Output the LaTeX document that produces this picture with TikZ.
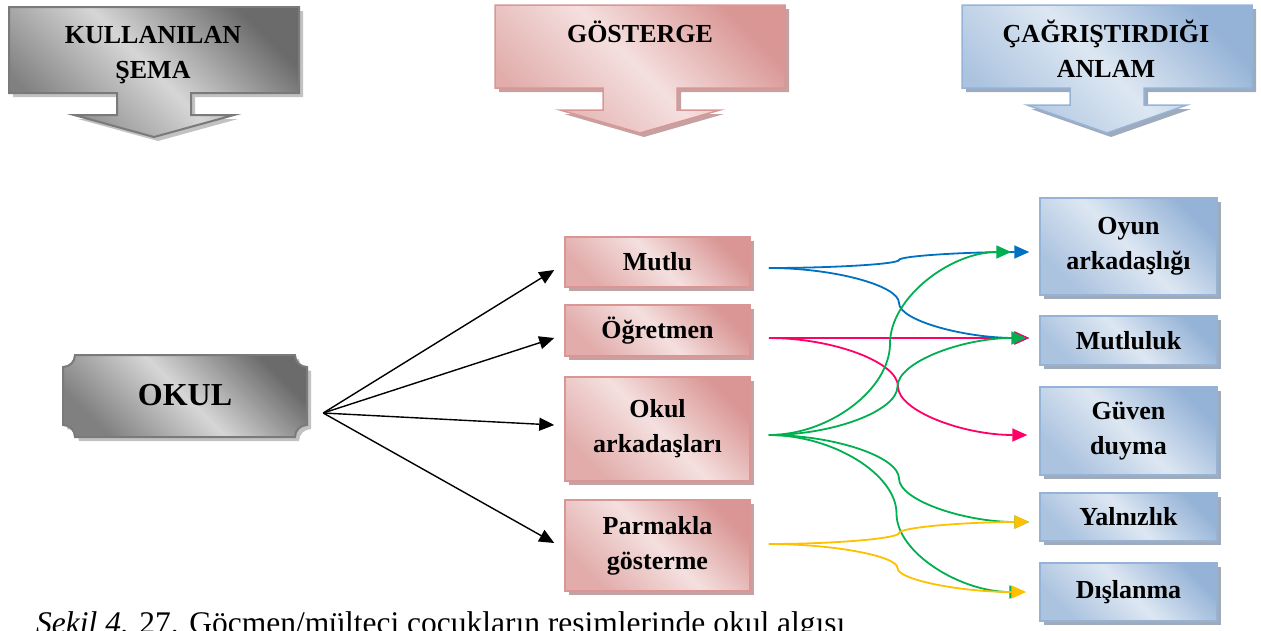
\documentclass[tikz,border=0pt]{standalone}
\usepackage{fontspec}
\setmainfont{Liberation Serif}
\usetikzlibrary{arrows.meta, calc, shadows}

\definecolor{graydark}{HTML}{6B6B6B}
\definecolor{graylight}{HTML}{D6D6D6}
\definecolor{grayedge}{HTML}{7A7A7A}
\definecolor{pinkdark}{HTML}{D99694}
\definecolor{pinklight}{HTML}{F4E0DF}
\definecolor{pinkshadow}{HTML}{B88A89}
\definecolor{bluedark}{HTML}{95B3D7}
\definecolor{bluelight}{HTML}{DDE7F2}
\definecolor{blueshadow}{HTML}{8795AA}
\definecolor{cblue}{HTML}{0070C0}
\definecolor{cpink}{HTML}{FF0066}
\definecolor{cgreen}{HTML}{00B050}
\definecolor{cyellow}{HTML}{FFC000}

\tikzset{
    headgray/.style={draw=grayedge, line width=2pt, top color=graydark, bottom color=graydark!80!graylight, middle color=graylight, shading angle=-45, drop shadow={shadow xshift=4pt, shadow yshift=-4pt, fill=black!40, opacity=0.6}},
    headpink/.style={draw=pinkdark, line width=1.5pt, top color=pinkdark, bottom color=pinkdark!70!pinklight, middle color=pinklight, shading angle=-45, drop shadow={shadow xshift=4pt, shadow yshift=-4pt, fill=pinkshadow, opacity=0.8}},
    headblue/.style={draw=bluedark, line width=1.5pt, top color=bluedark, bottom color=bluedark!70!bluelight, middle color=bluelight, shading angle=-45, drop shadow={shadow xshift=4pt, shadow yshift=-4pt, fill=blueshadow, opacity=0.8}},
    headtext/.style={font=\fontsize{26}{35}\selectfont\bfseries, align=center},
    signbox/.style={rectangle, headpink, minimum width=185pt, inner sep=2pt, align=center, font=\fontsize{26}{35}\selectfont\bfseries},
    meanbox/.style={rectangle, headblue, minimum width=177pt, inner sep=2pt, align=center, font=\fontsize{26}{35}\selectfont\bfseries},
    pointer/.style={line width=1.4pt, -{Triangle[length=15pt,width=13pt]}},
    link/.style={line width=1.8pt, -{Triangle[length=15pt,width=13pt]}}
}

% header box with a down arrow under it
\newcommand{\headarrow}[6]{%
  \draw[#1] (#2,#3) -- (#2+290,#3) -- (#2+290,#4) -- (#2+182,#4) -- (#2+182,#5)
    -- (#2+225,#5) -- (#2+145,#6) -- (#2+65,#5) -- (#2+108,#5) -- (#2+108,#4)
    -- (#2,#4) -- cycle;}

% curved connector, bending at half way
\newcommand{\bendlink}[3]{%
  \draw[link, #1] let \p1=(#2), \p2=(#3), \p3=($(\p1)!0.5!(\p2)$) in
    (\p1) .. controls ($(\p1)!0.5!(\x3,\y1)$) and ($(\x3,\y1)!0.5!(\p3)$) .. (\p3)
    .. controls ($(\p3)!0.5!(\x3,\y2)$) and ($(\x3,\y2)!0.5!(\p2)$) .. (\p2);}

\begin{document}
\begin{tikzpicture}[x=1pt, y=-1pt]
    \useasboundingbox (0,0) rectangle (1261,630);

    % headers
    \headarrow{headgray}{9}{7}{93}{115}{137}
    \headarrow{headpink}{495}{5}{88}{110}{133}
    \headarrow{headblue}{962}{5}{88}{105}{133}
    \node[headtext] (sema) at (153,55) {KULLANILAN\\ŞEMA};
    \node[headtext, anchor=base] (gosterge) at (640,42) {GÖSTERGE};
    \begin{scope}
        \clip (962,5) rectangle (1252,76);
        \node[headtext] (anlam) at (1106,49) {ÇAĞRIŞTIRDIĞI\\ANLAM};
    \end{scope}

    % OKUL plaque
    \draw[headgray] (75,355) -- (295,355) .. controls (295,361.6) and (300.4,367) .. (307,367)
        -- (307,425) .. controls (300.4,425) and (295,430.4) .. (295,437)
        -- (75,437) .. controls (75,430.4) and (69.6,425) .. (63,425)
        -- (63,367) .. controls (69.6,367) and (75,361.6) .. (75,355) -- cycle;
    \node[font=\fontsize{32}{38}\selectfont\bfseries, minimum width=244pt, minimum height=82pt] (okul) at (185,395) {OKUL};
    \coordinate (okulsrc) at ([xshift=16pt,yshift=-18pt]okul.east);

    % signs
    \node[signbox, minimum height=50pt] (mutlu) at (657.5,262) {Mutlu};
    \node[signbox, minimum height=51pt] (ogretmen) at (657.5,330.5) {Öğretmen};
    \node[signbox, minimum height=104pt] (okularkadas) at (657.5,429) {Okul\\arkadaşları};
    \node[signbox, minimum height=91pt] (parmakla) at (657.5,545.5) {Parmakla\\gösterme};

    % meanings
    \node[meanbox, minimum height=97pt] (oyun) at (1128.5,246.5) {Oyun\\arkadaşlığı};
    \node[meanbox, minimum height=49pt] (mutluluk) at (1128.5,340.5) {Mutluluk};
    \node[meanbox, minimum height=88pt] (guven) at (1128.5,431) {Güven\\duyma};
    \node[meanbox, minimum height=48pt] (yalniz) at (1128.5,517) {Yalnızlık};
    \node[meanbox, minimum height=58pt] (dislanma) at (1128.5,592) {Dışlanma};

    % OKUL -> signs
    \draw[pointer] (okulsrc) -- ([xshift=-10pt,yshift=-8pt]mutlu.west);
    \draw[pointer] (okulsrc) -- ([xshift=-10pt,yshift=-7.5pt]ogretmen.west);
    \draw[pointer] (okulsrc) -- ([xshift=-10pt,yshift=4pt]okularkadas.west);
    \draw[pointer] (okulsrc) -- ([xshift=-10pt,yshift=2.5pt]parmakla.west);

    % ends of the coloured links
    \coordinate (mutluR) at ([xshift=18pt,yshift=-6pt]mutlu.east);
    \coordinate (ogretmenR) at ([xshift=18pt,yshift=-7.5pt]ogretmen.east);
    \coordinate (okularkadasR) at ([xshift=18pt,yshift=-6pt]okularkadas.east);
    \coordinate (parmaklaR) at ([xshift=18pt,yshift=1.5pt]parmakla.east);
    \coordinate (oyunL) at ([xshift=-10pt,yshift=-5.5pt]oyun.west);
    \coordinate (mutlulukL) at ([xshift=-10pt,yshift=2.5pt]mutluluk.west);
    \coordinate (guvenL) at ([xshift=-12pt,yshift=-4pt]guven.west);
    \coordinate (yalnizL) at ([xshift=-10pt,yshift=-5pt]yalniz.west);
    \coordinate (dislanmaL) at ([xshift=-13pt]dislanma.west);

    \bendlink{cblue}{mutluR}{oyunL}
    \bendlink{cblue}{mutluR}{mutlulukL}
    \bendlink{cpink}{ogretmenR}{mutlulukL}
    \bendlink{cpink}{ogretmenR}{guvenL}
    \bendlink{cgreen}{okularkadasR}{[xshift=-18pt]oyunL}
    \bendlink{cgreen}{okularkadasR}{[xshift=-3pt]mutlulukL}
    \bendlink{cgreen}{okularkadasR}{yalnizL}
    \bendlink{cgreen}{okularkadasR}{[xshift=-2pt]dislanmaL}
    \bendlink{cyellow}{parmaklaR}{yalnizL}
    \bendlink{cyellow}{parmaklaR}{dislanmaL}

    % caption, cut by the page edge
    \node[anchor=base west, font=\fontsize{31.5}{38}\selectfont, inner sep=0pt] (caption) at (36,633) {\textit{Şekil 4.} 27. Göçmen/mülteci çocukların resimlerinde okul algısı};
\end{tikzpicture}
\end{document}
